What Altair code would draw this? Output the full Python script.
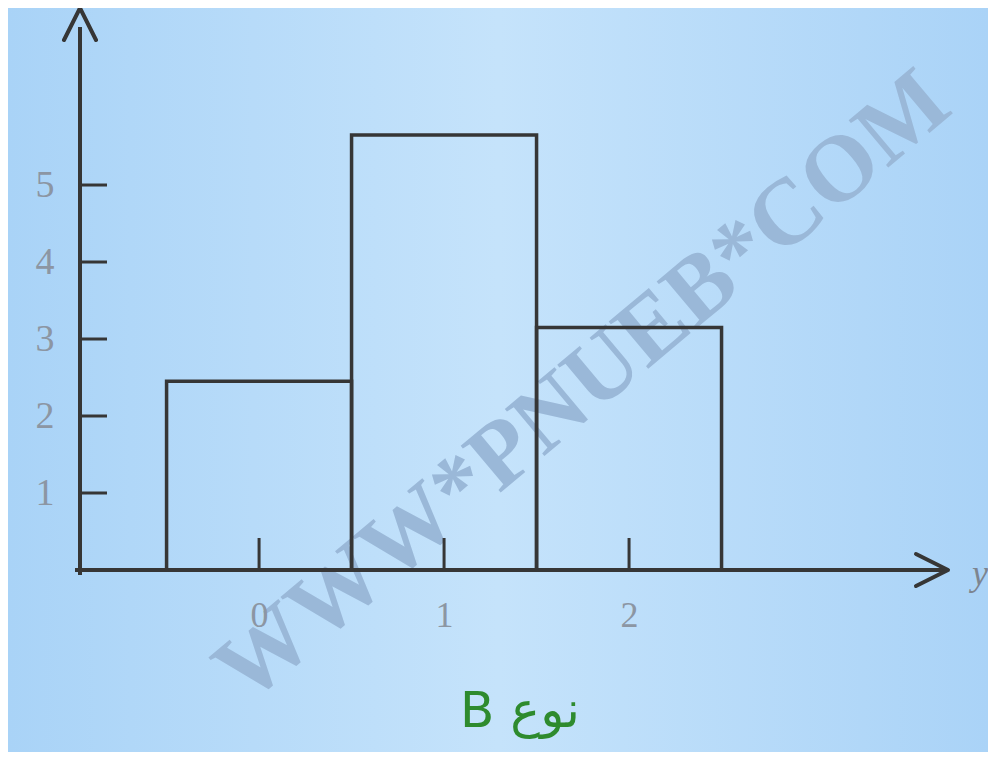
import altair as alt
import pandas as pd

# ---- data ----
categories = [0, 1, 2]
counts = [2.45, 5.65, 3.15]
y_tick_values = [1, 2, 3, 4, 5]
x_tick_values = [0, 1, 2]
title_text = "B نوع"
axis_var = "y"
watermark = "WWW*PNUEB*COM"

W, H = 880, 555
XDOM = [-0.968, 3.789]
YDOM = [0, 7.208]

xs = alt.Scale(domain=XDOM, nice=False, zero=False)
ys = alt.Scale(domain=YDOM, nice=False, zero=False)

LBL = "#8c96a3"
INK = "#363636"

xaxis = alt.Axis(values=x_tick_values, domain=False, ticks=False, grid=False,
                 labelPadding=28, labelFontSize=36, labelFont="Liberation Serif",
                 labelColor=LBL, title=None, format="d", zindex=1)
yaxis = alt.Axis(values=y_tick_values, domain=False, ticks=False, grid=False,
                 labelPadding=26, labelFontSize=38, labelFont="Liberation Serif",
                 labelColor=LBL, title=None, format="d", zindex=1)

one = alt.Data(values=[{}])

gradient = alt.LinearGradient(
    gradient="linear", x1=0, y1=0, x2=1, y2=0,
    stops=[alt.GradientStop(offset=0, color="#a9d3f7"),
           alt.GradientStop(offset=0.5, color="#c5e3fb"),
           alt.GradientStop(offset=1, color="#aad3f7")])

bg = alt.Chart(one).mark_rect(color=gradient).encode(
    x=alt.value(-72), x2=alt.value(W + 28), y=alt.value(-7), y2=alt.value(H + 182))

wm = alt.Chart(pd.DataFrame({"t": [watermark]})).mark_text(
    font="Liberation Serif", fontWeight="bold", fontSize=94, angle=320,
    color="#9ab8d8", align="center", baseline="middle"
).encode(text="t:N", x=alt.value(503), y=alt.value(372))

df = pd.DataFrame({"cat": categories, "count": counts})
bars = alt.Chart(df).transform_calculate(
    x0="datum.cat - 0.5", x1="datum.cat + 0.5"
).mark_rect(fill="transparent", stroke=INK, strokeWidth=3.5).encode(
    x=alt.X("x0:Q", scale=xs, axis=xaxis),
    x2="x1:Q",
    y=alt.Y("count:Q", scale=ys, axis=yaxis),
    y2=alt.datum(0),
)

y_line = alt.Chart(one).mark_rule(color=INK, strokeWidth=4).encode(
    x=alt.value(0), y=alt.value(12), y2=alt.value(H + 5))
x_line = alt.Chart(one).mark_rule(color=INK, strokeWidth=4).encode(
    y=alt.value(H), x=alt.value(-5), x2=alt.value(W - 13))

yt = alt.Chart(pd.DataFrame({"v": y_tick_values})).mark_rule(color=INK, strokeWidth=3).encode(
    y=alt.Y("v:Q", scale=ys, axis=yaxis), x=alt.value(0), x2=alt.value(27))
xt = alt.Chart(pd.DataFrame({"v": x_tick_values})).mark_rule(color=INK, strokeWidth=3).encode(
    x=alt.X("v:Q", scale=xs, axis=xaxis), y=alt.value(H), y2=alt.value(H - 32))

up = alt.Chart(one).mark_point(
    shape="M-0.8,0.6L0,-1L0.8,0.6", filled=False, stroke=INK, strokeWidth=4,
    size=1600, opacity=1, strokeCap="round", strokeJoin="round"
).encode(x=alt.value(0), y=alt.value(13))
right = alt.Chart(one).mark_point(
    shape="M-0.6,-0.8L1,0L-0.6,0.8", filled=False, stroke=INK, strokeWidth=4,
    size=1600, opacity=1, strokeCap="round", strokeJoin="round"
).encode(x=alt.value(W - 32), y=alt.value(H))

yvar = alt.Chart(pd.DataFrame({"t": [axis_var]})).mark_text(
    font="Liberation Serif", fontStyle="italic", fontSize=36, color="#7d8590",
    align="left", baseline="middle"
).encode(text="t:N", x=alt.value(W + 12), y=alt.value(H + 4))

title = alt.Chart(pd.DataFrame({"t": [title_text]})).mark_text(
    font="DejaVu Sans", fontSize=50, color="#2e8b2e", align="center", baseline="middle"
).encode(text="t:N", x=alt.value(440), y=alt.value(H + 142))

chart = alt.layer(bg, wm, bars, y_line, x_line, yt, xt, up, right, yvar, title).properties(
    width=W, height=H,
    padding={"left": 72, "top": 7, "right": 28, "bottom": 182},
    autosize="none",
).configure_view(stroke=None).configure(background="#bcdcf8")

chart.save("out.html", embed_options={"renderer": "svg", "actions": False})
